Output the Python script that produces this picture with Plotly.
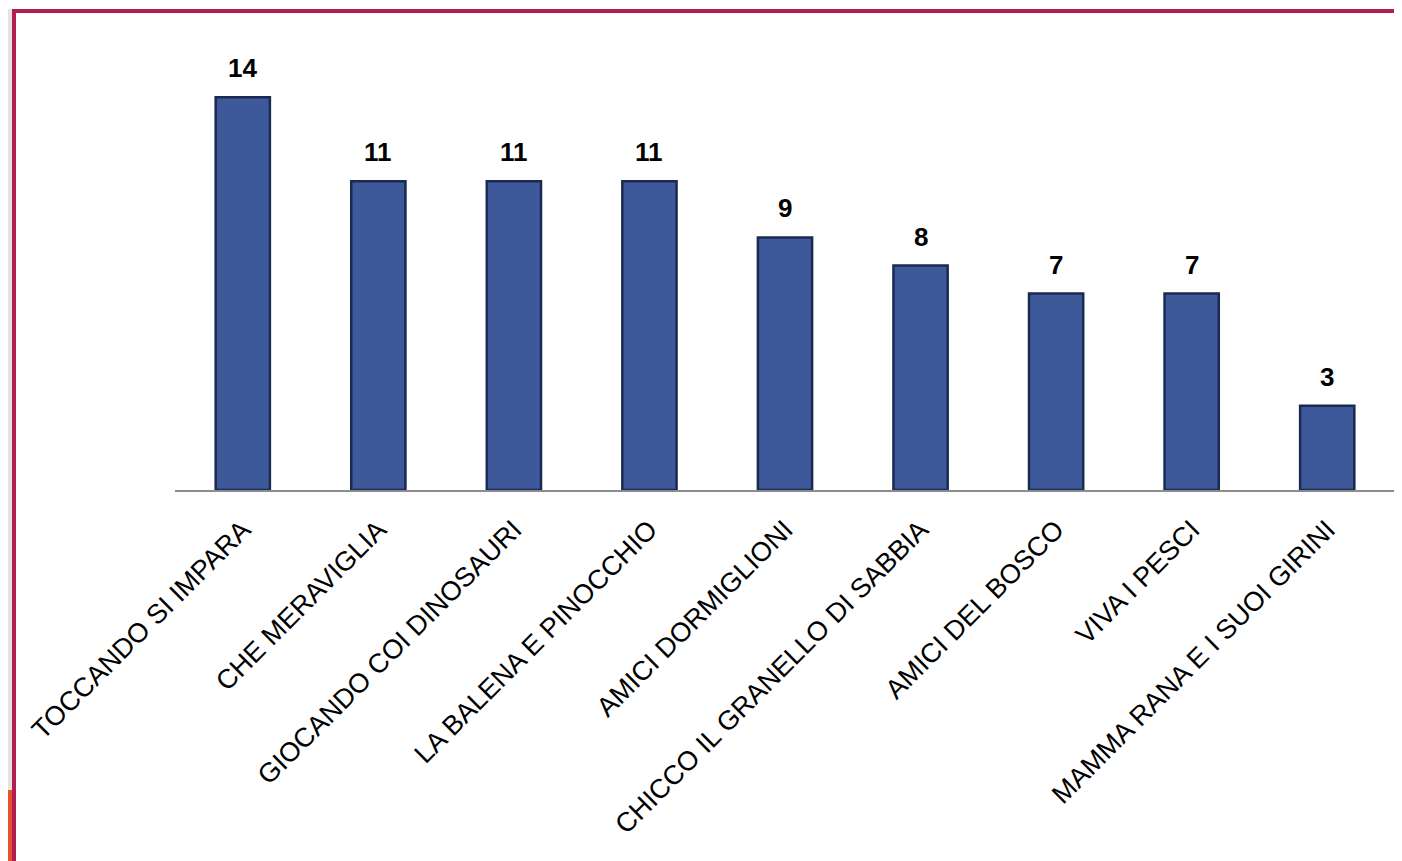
import plotly.graph_objects as go

# Categories and counts
categories = [
    "TOCCANDO SI IMPARA",
    "CHE MERAVIGLIA",
    "GIOCANDO COI DINOSAURI",
    "LA BALENA E PINOCCHIO",
    "AMICI DORMIGLIONI",
    "CHICCO IL GRANELLO DI SABBIA",
    "AMICI DEL BOSCO",
    "VIVA I PESCI",
    "MAMMA RANA E I SUOI GIRINI",
]
counts = [14, 11, 11, 11, 9, 8, 7, 7, 3]

# the page puts the figure 8px in from the top-left corner of the window
OFF = 8
W, H = 1402 - OFF, 861 - OFF
left, right, top, bottom = 175 - OFF, 7, 41 - OFF, 861 - 490
plot_w = W - left - right
plot_h = H - top - bottom


def px_x(p):
    # window pixel x -> paper x
    return (p - OFF - left) / plot_w


def px_y(p):
    # window pixel y -> paper y
    return (H - bottom - (p - OFF)) / plot_h


fig = go.Figure()

fig.add_trace(
    go.Bar(
        x=categories,
        y=counts,
        marker=dict(color="#3e599a", line=dict(color="#1b2a50", width=2.5)),
        width=0.4,
        hoverinfo="x+y",
    )
)

# value labels above the bars
for cat, val in zip(categories, counts):
    fig.add_annotation(
        x=cat,
        y=val,
        text=f"<b>{val}</b>",
        showarrow=False,
        yanchor="bottom",
        yshift=12,
        font=dict(family="Liberation Sans, Arial", size=26, color="black"),
    )

# slide frame: crimson rule on top and on the left
shapes = [
    dict(type="rect", xref="paper", yref="paper", x0=px_x(12), x1=px_x(1402),
         y0=px_y(13), y1=px_y(9), fillcolor="#b21e50", line_width=0, layer="below"),
    dict(type="rect", xref="paper", yref="paper", x0=px_x(0), x1=px_x(12),
         y0=px_y(861), y1=px_y(9), fillcolor="#e6e2dd", line_width=0, layer="below"),
    dict(type="rect", xref="paper", yref="paper", x0=px_x(0), x1=px_x(12),
         y0=px_y(861), y1=px_y(790), fillcolor="#e2542e", line_width=0, layer="below"),
    dict(type="rect", xref="paper", yref="paper", x0=px_x(12), x1=px_x(16),
         y0=px_y(861), y1=px_y(9), fillcolor="#b21e50", line_width=0, layer="below"),
]

fig.update_layout(
    width=W,
    height=H,
    margin=dict(l=left, r=right, t=top, b=bottom, autoexpand=False),
    paper_bgcolor="white",
    plot_bgcolor="rgba(0,0,0,0)",
    showlegend=False,
    bargap=0.6,
    shapes=shapes,
    font=dict(family="Liberation Sans, Arial", color="black"),
)

fig.update_xaxes(
    showline=True,
    linecolor="#8c8c8c",
    linewidth=2,
    showgrid=False,
    ticks="outside",
    ticklen=11,
    tickcolor="rgba(0,0,0,0)",
    tickangle=-45,
    tickfont=dict(size=27, family="Liberation Sans, Arial", color="black"),
)
fig.update_yaxes(
    range=[0, 16],
    visible=False,
    showgrid=False,
    zeroline=False,
)

fig.write_html("out.html")
